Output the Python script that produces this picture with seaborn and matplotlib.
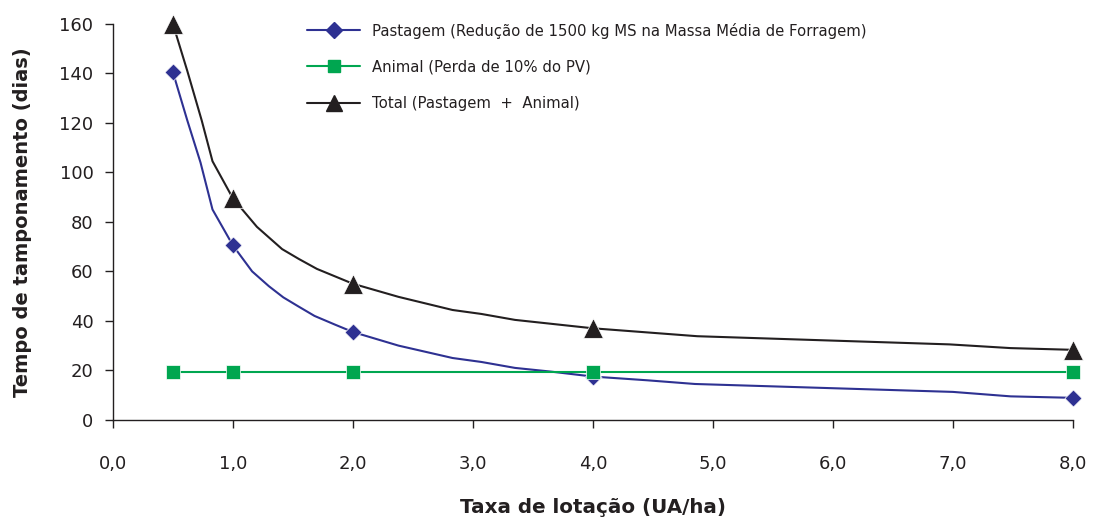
import matplotlib
matplotlib.use("Agg")
import matplotlib.pyplot as plt
from matplotlib.lines import Line2D
import pandas as pd
import seaborn as sns

# valores (curvas suavizadas)
pasto_x = [0.5, 0.62, 0.73, 0.83, 1.0, 1.16, 1.3, 1.42, 1.54, 1.68, 1.85, 2.0,
           2.38, 2.83, 3.07, 3.35, 3.65, 4.0, 4.45, 4.85, 7.0, 7.48, 8.0]
pasto_y = [140.5, 121, 104, 85, 70.5, 60, 54, 49.5, 46, 42, 38.5, 35.5,
           30, 25, 23.4, 21, 19.5, 17.5, 16, 14.5, 11.3, 9.5, 8.9]

total_x = [0.5, 0.62, 0.74, 0.83, 1.0, 1.2, 1.41, 1.55, 1.7, 2.0, 2.38, 2.83,
           3.07, 3.35, 4.0, 4.87, 6.97, 7.48, 8.0]
total_y = [160, 141, 121, 104.5, 89.5, 78, 69, 65, 61, 55, 49.7, 44.4,
           42.8, 40.4, 37, 33.8, 30.5, 29, 28.3]

# pontos marcados
lotacao = [0.5, 1.0, 2.0, 4.0, 8.0]
pastagem = [140.5, 70.5, 35.5, 17.5, 8.9]
animal = [19.5, 19.5, 19.5, 19.5, 19.5]
total = [160, 89.5, 55, 37, 28.3]

rotulos = ["Pastagem (Redução de 1500 kg MS na Massa Média de Forragem)",
           "Animal (Perda de 10% do PV)",
           "Total (Pastagem  +  Animal)"]
cores = ["#2E3192", "#00A650", "#231F20"]

sns.set_style("ticks")
plt.rcParams["font.family"] = ["DejaVu Sans"]

fig = plt.figure(figsize=(10.96, 5.19), dpi=100)
ax = fig.add_axes([0.103, 0.191, 0.876, 0.763])

df_p = pd.DataFrame({"x": pasto_x, "y": pasto_y})
df_t = pd.DataFrame({"x": total_x, "y": total_y})
df_m = pd.DataFrame({"x": lotacao, "pastagem": pastagem, "animal": animal, "total": total})

sns.lineplot(data=df_p, x="x", y="y", ax=ax, color=cores[0], lw=1.5, sort=False)
sns.lineplot(data=df_m, x="x", y="animal", ax=ax, color=cores[1], lw=1.5)
sns.lineplot(data=df_t, x="x", y="y", ax=ax, color=cores[2], lw=1.5, sort=False)

sns.scatterplot(data=df_m, x="x", y="pastagem", ax=ax, color=cores[0], marker="D",
                s=75, edgecolor="white", linewidth=0.5, zorder=5, clip_on=False)
sns.scatterplot(data=df_m, x="x", y="animal", ax=ax, color=cores[1], marker="s",
                s=95, edgecolor="white", linewidth=0.5, zorder=5, clip_on=False)
sns.scatterplot(data=df_m, x="x", y="total", ax=ax, color=cores[2], marker="^",
                s=200, edgecolor="white", linewidth=0.5, zorder=5, clip_on=False)

ax.set_xlim(0, 8)
ax.set_ylim(0, 160)
ax.set_xticks(range(0, 9))
ax.set_xticklabels([f"{v},0" for v in range(0, 9)])
ax.set_yticks(range(0, 161, 20))
ax.tick_params(axis="both", labelsize=13, length=6, width=1, color="#231F20",
               labelcolor="#231F20", direction="out")
ax.tick_params(axis="x", pad=19)
ax.tick_params(axis="y", pad=8)
sns.despine(ax=ax)
for s in ["left", "bottom"]:
    ax.spines[s].set_color("#231F20")
    ax.spines[s].set_linewidth(1)

ax.set_xlabel("Taxa de lotação (UA/ha)", fontsize=14.3, fontweight="bold",
              color="#231F20", labelpad=18)
ax.set_ylabel("Tempo de tamponamento (dias)", fontsize=14, fontweight="bold",
              color="#231F20", labelpad=20)

handles = [
    Line2D([], [], color=cores[0], lw=1.5, marker="D", markersize=8),
    Line2D([], [], color=cores[1], lw=1.5, marker="s", markersize=8),
    Line2D([], [], color=cores[2], lw=1.5, marker="^", markersize=11),
]
leg = ax.legend(handles, rotulos, loc="upper left", bbox_to_anchor=(0.188, 1.037),
                frameon=False, fontsize=10.7, handlelength=3.6, labelspacing=1.42,
                handletextpad=0.8)
for t in leg.get_texts():
    t.set_color("#231F20")

fig.savefig("out.png", dpi=100)
